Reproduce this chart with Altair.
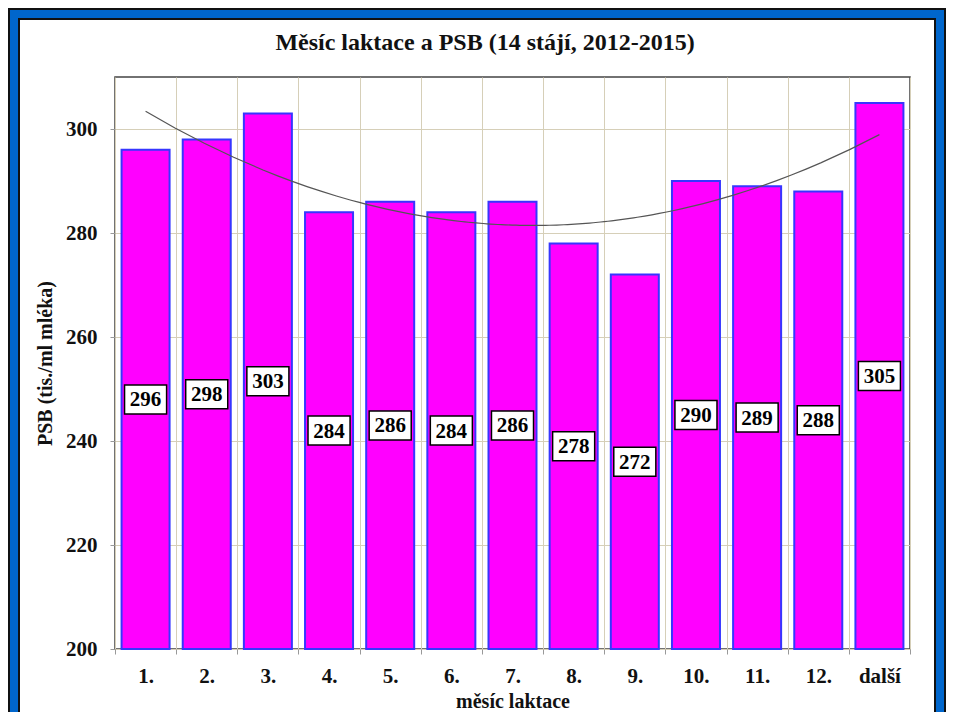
import altair as alt
import pandas as pd

# ---- data ----
categories = ["1.", "2.", "3.", "4.", "5.", "6.", "7.", "8.", "9.", "10.", "11.", "12.", "další"]
psb_values = [296, 298, 303, 284, 286, 284, 286, 278, 272, 290, 289, 288, 305]
month_index = [1, 2, 3, 4, 5, 6, 7, 8, 9, 10, 11, 12, 13]
y_ticks = [200, 220, 240, 260, 280, 300]
y_domain = [200, 310]
title_text = "Měsíc laktace a PSB (14 stájí, 2012-2015)"
x_title = "měsíc laktace"
y_title = "PSB (tis./ml mléka)"

df = pd.DataFrame({"cat": categories, "psb": psb_values, "idx": month_index})
one = pd.DataFrame({"k": [0]})

SERIF = "Liberation Serif"
W, H = 795, 572

band_scale = alt.Scale(paddingInner=0, paddingOuter=0)
xband = alt.X(
    "cat:N",
    sort=categories,
    scale=band_scale,
    axis=alt.Axis(
        title=x_title, labelAngle=0, tickBand="extent", grid=True,
        gridColor="#d6cfb8", gridWidth=1, ticks=True, tickSize=5, tickColor="#999999",
        domain=False, labelFont=SERIF, labelFontWeight="bold", labelFontSize=21,
        labelColor="#111111", labelPadding=11, titleFont=SERIF, titleFontWeight="bold",
        titleFontSize=20, titleColor="#111111", titlePadding=5,
    ),
)
xband_noaxis = alt.X("cat:N", sort=categories, scale=band_scale, axis=None)
yscale = alt.Scale(domain=y_domain, nice=False, zero=False)
yaxis = alt.Axis(
    title=y_title, values=y_ticks, grid=True, gridColor="#d6cfb8", gridWidth=1,
    ticks=True, tickSize=5, tickColor="#999999", domain=False,
    labelFont=SERIF, labelFontWeight="bold", labelFontSize=21, labelColor="#111111",
    labelPadding=13, titleFont=SERIF, titleFontWeight="bold", titleFontSize=20,
    titleColor="#111111", titlePadding=10,
)

base = alt.Chart(df)

bars = base.mark_bar(
    width=alt.RelativeBandSize(0.785), fill="#ff00ff", stroke="#3636ff", strokeWidth=2
).encode(
    x=xband,
    y=alt.Y("psb:Q", scale=yscale, axis=yaxis),
    y2=alt.datum(200),
)

boxes = base.transform_calculate(mid="(datum.psb + 200) / 2").mark_point(
    shape="M-1.45,-1H1.45V1H-1.45Z", size=841, filled=True, fill="white",
    stroke="black", strokeWidth=1.5, opacity=1,
).encode(x=xband_noaxis, y=alt.Y("mid:Q"))

labels = base.transform_calculate(mid="(datum.psb + 200) / 2").mark_text(
    font=SERIF, fontWeight="bold", fontSize=21, color="black", baseline="middle", dy=1
).encode(x=xband_noaxis, y=alt.Y("mid:Q"), text=alt.Text("psb:Q"))

trend = base.transform_regression(
    "idx", "psb", method="poly", order=2, extent=[1, 13]
).mark_line(color="#555555", strokeWidth=1.2).encode(
    x=alt.X("idx:Q", scale=alt.Scale(domain=[0.5, 13.5], nice=False, zero=False), axis=None),
    y=alt.Y("psb:Q"),
)

frame_outer = alt.Chart(one).mark_rect(fill="transparent", stroke="#111111", strokeWidth=12).encode(
    x=alt.value(-101), x2=alt.value(825), y=alt.value(-63), y2=alt.value(680)
)
frame_blue = alt.Chart(one).mark_rect(fill="transparent", stroke="#0066cc", strokeWidth=8).encode(
    x=alt.value(-101), x2=alt.value(825), y=alt.value(-63), y2=alt.value(680)
)

title = alt.Chart(one).mark_text(
    text=title_text, font=SERIF, fontWeight="bold", fontSize=24, color="#111111",
    align="center", baseline="middle",
).encode(x=alt.value(370), y=alt.value(-34))

chart = alt.layer(
    bars, trend, boxes, labels, frame_outer, frame_blue, title
).resolve_scale(x="independent").properties(
    width=W, height=H,
    autosize=alt.AutoSizeParams(type="none"),
    padding={"left": 107, "top": 69, "right": 36, "bottom": 63},
    background="white",
).configure_view(stroke="#444444", strokeWidth=1.5)

chart.save("out.html", embed_options={"renderer": "svg", "actions": False})
